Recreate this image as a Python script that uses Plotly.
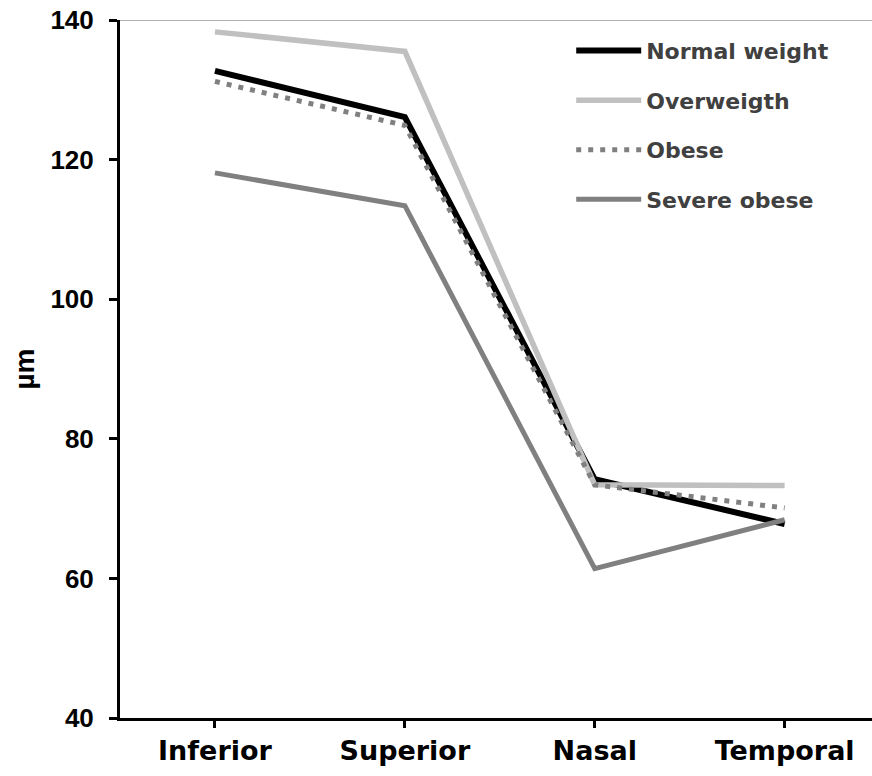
import plotly.graph_objects as go

categories = ["Inferior", "Superior", "Nasal", "Temporal"]
normal_weight = [132.7, 126.1, 74.2, 67.8]
overweight = [138.3, 135.5, 73.4, 73.3]
obese = [131.2, 124.9, 73.4, 70.1]
severe_obese = [118.1, 113.4, 61.4, 68.4]
y_ticks = [40, 60, 80, 100, 120, 140]

fig = go.Figure()
series = [
    ("Normal weight", normal_weight, "#000000", 6, "solid"),
    ("Overweigth", overweight, "#c0c0c0", 5.5, "solid"),
    ("Obese", obese, "#808080", 5, "5px,7px"),
    ("Severe obese", severe_obese, "#808080", 5, "solid"),
]
for name, vals, color, w, dash in series:
    fig.add_trace(go.Scatter(
        x=categories, y=vals, name=name, mode="lines",
        line=dict(color=color, width=w, dash=dash),
        legendgroup=name,
    ))

fig.add_shape(type="line", xref="paper", yref="y", x0=0, x1=1, y0=140, y1=140,
              line=dict(color="#999999", width=1.5))

fig.update_layout(
    width=872, height=776,
    margin=dict(l=120, r=0, t=20, b=58),
    plot_bgcolor="white", paper_bgcolor="white",
    font=dict(family="Liberation Sans, Arial, sans-serif", size=20, color="black"),
    showlegend=True,
    legend=dict(
        x=0.6, y=0.986, xanchor="left", yanchor="top",
        bgcolor="rgba(0,0,0,0)",
        font=dict(size=22, color="#404040", family="DejaVu Sans", weight="bold"),
        itemwidth=65, tracegroupgap=18,
    ),
    xaxis=dict(
        type="category", range=[-0.5, 3.46],
        showline=True, linecolor="black", linewidth=3,
        ticks="outside", ticklen=7, tickwidth=2.5, tickcolor="black",
        showgrid=False, zeroline=False,
        tickfont=dict(size=27, weight="bold", family="DejaVu Sans"),
        ticklabelstandoff=0,
    ),
    yaxis=dict(
        range=[40, 140], tickvals=y_ticks,
        showline=True, linecolor="black", linewidth=3,
        ticks="outside", ticklen=8, tickwidth=2.5, tickcolor="black",
        showgrid=False, zeroline=False, automargin=True,
        tickfont=dict(size=26, weight="bold"),
        ticklabelstandoff=10,
        title=dict(text="µm", font=dict(size=28, weight="bold"), standoff=8),
    ),
)

fig.write_html("out.html")
